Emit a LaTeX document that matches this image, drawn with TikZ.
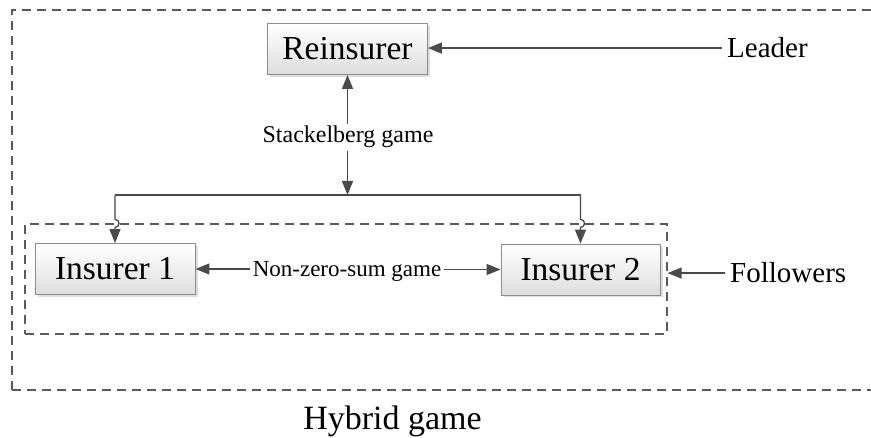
\documentclass[tikz,border=0pt]{standalone}
\usepackage{fontspec}
\setmainfont{Liberation Serif}
\usetikzlibrary{arrows.meta,shadows}
\definecolor{linec}{HTML}{4A4A4A}
\definecolor{boxc}{HTML}{8C8C8C}
\definecolor{dashc}{HTML}{5A5A5A}
\tikzset{
  gbox/.style={draw=boxc, line width=0.9pt, top color=white, bottom color=black!13,
    minimum width=160pt, minimum height=51pt, inner sep=0pt,
    drop shadow={shadow xshift=2.5pt, shadow yshift=-2.5pt, fill=black!22, opacity=0.6},
    font=\fontsize{33.5}{38}\selectfont},
  dbox/.style={draw=dashc, line width=1.2pt, dash pattern=on 9pt off 6pt, inner sep=0pt},
  arr/.style={draw=linec, line width=1.3pt, -{Triangle[length=14pt,width=11pt]}},
  ln/.style={draw=linec, line width=1.3pt},
  side/.style={font=\fontsize{29}{33}\selectfont, inner sep=0pt},
  lab/.style={inner sep=2.5pt},
}
\begin{document}
\begin{tikzpicture}[x=1pt,y=-1pt]
\useasboundingbox (0,0) rectangle (871,438);
% frames
\node[dbox, minimum width=862pt, minimum height=380pt] (outer) at (443,200) {};
\node[dbox, minimum width=642pt, minimum height=110pt] (inner) at (346,279) {};
% boxes
\node[gbox] (rein) at (347.5,49) {Reinsurer};
\node[gbox] (ins1) at (115,269) {Insurer 1};
\node[gbox, minimum width=159pt] (ins2) at (580.5,269.5) {Insurer 2};
% side labels
\node[side, anchor=base west] (leader) at (727,58) {Leader};
\node[side, anchor=base west] (followers) at (730,283) {Followers};
\node[font=\fontsize{34}{38}\selectfont, inner sep=0pt, anchor=base] (hybrid) at (392.5,430) {Hybrid game};
% connector labels
\node[lab, font=\fontsize{24}{28}\selectfont, anchor=base] (stack) at (348,143) {Stackelberg game};
\node[lab, font=\fontsize{23}{27}\selectfont, anchor=base] (nzs) at (347,277) {Non-zero-sum game};
% junction coordinates
\coordinate (jM) at (rein.south |- 0,195);
\coordinate (jL) at (ins1.north |- jM);
\coordinate (jR) at (ins2.north |- jM);
\coordinate (h1) at (ins1.north |- inner.north);
\coordinate (h2) at (ins2.north |- inner.north);
% leader / followers arrows
\draw[arr, shorten <=5pt] (leader.west) -- (leader.west -| rein.east);
\draw[arr, shorten <=5pt] (followers.west) -- (followers.west -| inner.east);
% stackelberg
\draw[arr] (rein.south |- stack.north) -- (rein.south);
\draw[arr] (rein.south |- stack.south) -- (jM);
\draw[ln] (jL) -- (jR);
% drops with line jumps
\draw[arr] (jL) -- ([yshift=4pt]h1) .. controls ([shift={(5.3pt,4pt)}]h1) and ([shift={(5.3pt,-4pt)}]h1) .. ([yshift=-4pt]h1) -- (ins1.north);
\draw[arr] (jR) -- ([yshift=4pt]h2) .. controls ([shift={(5.3pt,4pt)}]h2) and ([shift={(5.3pt,-4pt)}]h2) .. ([yshift=-4pt]h2) -- (ins2.north);
% non-zero-sum
\draw[arr] (nzs.west |- ins1.east) -- (ins1.east);
\draw[arr] (nzs.east |- ins2.west) -- (ins2.west);
\end{tikzpicture}
\end{document}
